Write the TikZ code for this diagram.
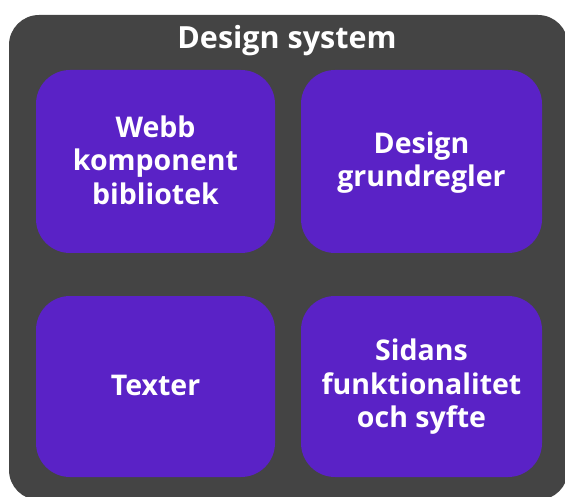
\documentclass[tikz,border=0pt]{standalone}
\usepackage{fontspec}
\setmainfont{Open Sans}
\definecolor{outerbg}{HTML}{444444}
\definecolor{boxfill}{HTML}{5A22C6}
\tikzset{
  panel/.style={fill=boxfill, draw=none, rounded corners=34pt},
  boxtext/.style={text=white, font=\fontsize{28.5}{33.5}\selectfont\bfseries, align=center},
}
\begin{document}
\begin{tikzpicture}[x=1pt,y=-1pt]
\useasboundingbox (0,0) rectangle (565,497);
\fill[outerbg, rounded corners=30pt] (9,15) rectangle (568,500);
\node[text=white, font=\fontsize{30.5}{34}\selectfont\bfseries] (title) at (287,41) {Design system};
\path[panel] (36,70) rectangle (275,253);
\path[panel] (301,70) rectangle (542,253);
\path[panel] (36,296) rectangle (275,477);
\path[panel] (301,296) rectangle (542,477);
\node[boxtext] (b1) at (155.5,160) {Webb\\komponent\\bibliotek};
\node[boxtext] (b2) at (421.5,162.5) {Design\\grundregler};
\node[boxtext] (b3) at (155.5,385) {Texter};
\node[boxtext] (b4) at (421.5,387) {Sidans\\funktionalitet\\och syfte};
\end{tikzpicture}
\end{document}
